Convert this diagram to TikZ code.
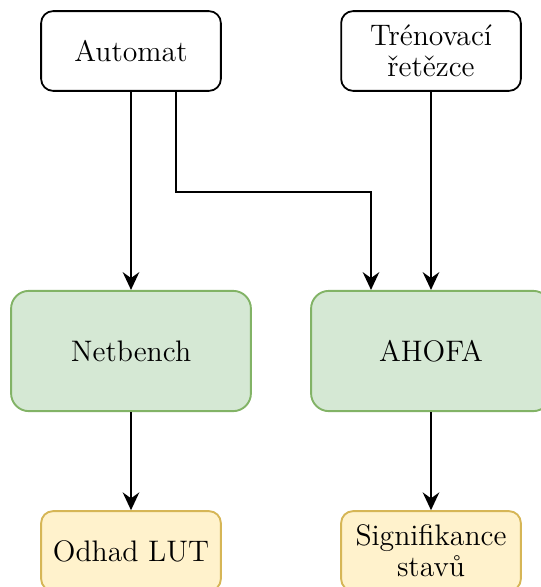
\documentclass[tikz,border=0pt]{standalone}
\usepackage{tikz}
\usetikzlibrary{positioning,arrows.meta,calc}
\usepackage{xcolor}

\definecolor{greenfill}{HTML}{D5E8D4}
\definecolor{greenline}{HTML}{82B366}
\definecolor{yellowfill}{HTML}{FFF2CC}
\definecolor{yellowline}{HTML}{D6B656}

\begin{document}
\begin{tikzpicture}[
  x=1.48mm, y=1.48mm,
  font=\fontsize{12.5}{13.2}\selectfont,
  >={Stealth[length=7.5pt,width=7pt,inset=2.5pt]},
  inbox/.style={draw=black, fill=white, line width=0.75pt, rounded corners=5pt,
    minimum width=26.6mm, minimum height=11.8mm, align=center, inner sep=1pt},
  toolbox/.style={draw=greenline, fill=greenfill, line width=0.8pt, rounded corners=7.5pt,
    minimum width=35.5mm, minimum height=17.8mm, align=center},
  outbox/.style={draw=yellowline, fill=yellowfill, line width=0.8pt, rounded corners=5pt,
    minimum width=26.6mm, minimum height=11.8mm, align=center, inner sep=1pt},
  flow/.style={->, line width=0.8pt},
]
  \useasboundingbox (0,0) rectangle (54.1,-58.7);

  % Inputs
  \node[inbox] (automat) at (13.1,-5.1) {Automat};
  \node[inbox] (retezce) at (43.1,-5.1) {Trénovací\\řetězce};

  % Tools
  \node[toolbox] (netbench) at (13.1,-35.1) {Netbench};
  \node[toolbox] (ahofa) at (43.1,-35.1) {AHOFA};

  % Outputs
  \node[outbox] (lut) at (13.1,-55.1) {Odhad LUT};
  \node[outbox] (stavy) at (43.1,-55.1) {Signifikance\\stavů};

  % Connectors
  \draw[flow] (automat) -- (netbench);
  \draw[flow] ($(automat.south)+(4.5,0)$) -- ++(0,-10)
    -| ($(ahofa.north)+(-6,0)$);
  \draw[flow] (retezce) -- (ahofa);
  \draw[flow] (netbench) -- (lut);
  \draw[flow] (ahofa) -- (stavy);
\end{tikzpicture}
\end{document}
